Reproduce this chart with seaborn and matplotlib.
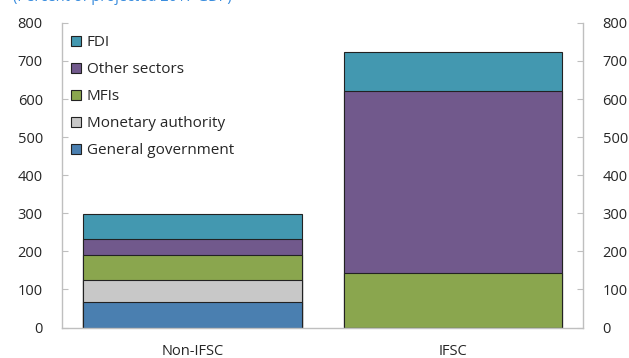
import matplotlib
matplotlib.use("Agg")
import matplotlib.pyplot as plt
import seaborn as sns
import pandas as pd
from matplotlib.patches import Patch

categories = ["Non-IFSC", "IFSC"]
general_government = [66, 0]
monetary_authority = [58, 0]
mfis = [66, 142]
other_sectors = [43, 478]
fdi = [65, 103]

series = ["General government", "Monetary authority", "MFIs", "Other sectors", "FDI"]
colors = ["#4A7FB0", "#C8C8C8", "#8AA64E", "#71598C", "#4398B0"]

df = pd.DataFrame({
    "category": categories,
    "General government": general_government,
    "Monetary authority": monetary_authority,
    "MFIs": mfis,
    "Other sectors": other_sectors,
    "FDI": fdi,
})
cum = df[series].cumsum(axis=1)
cum["category"] = df["category"]

sns.set_style("white")
plt.rcParams["font.family"] = ["Open Sans", "DejaVu Sans"]

fig, ax = plt.subplots(figsize=(6.29, 3.58), dpi=100)
fig.subplots_adjust(left=0.099, right=0.927, top=0.936, bottom=0.085)

# draw cumulative totals from the top down so lower segments overlay
for name, col in zip(reversed(series), reversed(colors)):
    sns.barplot(data=cum, x="category", y=name, color=col, width=0.84,
                edgecolor="#222222", linewidth=0.8, saturation=1, ax=ax)

ax.set_ylim(0, 800)
ax.set_yticks(range(0, 801, 100))
ax.set_xlabel("")
ax.set_ylabel("")
ax.tick_params(axis="y", which="both", left=True, right=True, labelleft=True,
               labelright=True, direction="in", length=4, color="#BFBFBF",
               labelsize=10.5, pad=14)
ax.tick_params(axis="x", length=0, labelsize=10.5, pad=12)
for side in ["left", "right", "bottom"]:
    ax.spines[side].set_color("#BFBFBF")
    ax.spines[side].set_linewidth(1)
ax.spines["top"].set_visible(False)

handles = [Patch(facecolor=c, edgecolor="#222222", linewidth=0.8, label=s)
           for s, c in zip(reversed(series), reversed(colors))]
ax.legend(handles=handles, loc="upper left", bbox_to_anchor=(-0.012, 1.01),
          frameon=False, fontsize=11, handlelength=0.65, handleheight=0.65,
          handletextpad=0.35, labelspacing=0.79, borderaxespad=0.6)

# subtitle sits mostly above the canvas, as in the reference
fig.text(0.02, 1.0 - 1 / 358, "(Percent of projected 2017 GDP)", color="#3A8DDE",
         fontsize=10.5, va="baseline", ha="left")

fig.savefig("out.png", dpi=100)
